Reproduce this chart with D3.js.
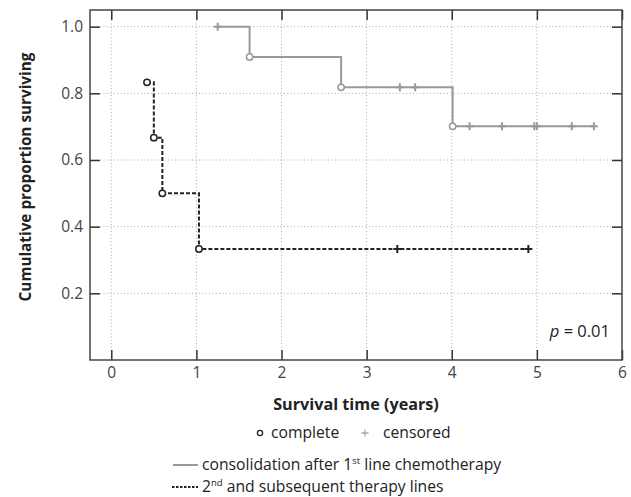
<!DOCTYPE html>
<html><head><meta charset="utf-8">
<script src="https://cdn.jsdelivr.net/npm/d3@7"></script>
<style>
body{margin:0;background:#fff;}
text{font-family:"Open Sans",sans-serif;}
</style></head>
<body><svg id="c" width="631" height="497"></svg>
<script>
// Data (time in years, cumulative proportion surviving, type e=complete, c=censored)
const consolidationTimes = [1.25, 1.625, 2.70, 3.39, 3.57, 4.01, 4.21, 4.59, 4.97, 5.00, 5.41, 5.67];
const consolidationSurv  = [1.0, 0.909, 0.818, 0.818, 0.818, 0.701, 0.701, 0.701, 0.701, 0.701, 0.701, 0.701];
const consolidationType  = ["c","e","e","c","c","e","c","c","c","c","c","c"];
const subsequentTimes = [0.42, 0.50, 0.60, 1.03, 3.36, 4.90];
const subsequentSurv  = [0.833, 0.667, 0.5, 0.333, 0.333, 0.333];
const subsequentType  = ["e","e","e","e","c","c"];
const xTicks = [0,1,2,3,4,5,6];
const yTicks = [0.2,0.4,0.6,0.8,1.0];
const xLabel = "Survival time (years)";
const yLabel = "Cumulative proportion surviving";

const svg = d3.select("#c");
const L=90, R=622, T=10, B=360;
const x = d3.scaleLinear().domain([-0.25,6]).range([L,R]);
const y = d3.scaleLinear().domain([0,1.05]).range([B,T]);

// grid
const g = svg.append("g");
g.selectAll(".gx").data(xTicks.filter(d=>d<6)).join("line")
  .attr("x1",d=>x(d)).attr("x2",d=>x(d)).attr("y1",T).attr("y2",B)
  .attr("stroke","#aaa").attr("stroke-width",1).attr("stroke-dasharray","1,2.4");
g.selectAll(".gy").data(yTicks).join("line")
  .attr("x1",L).attr("x2",R).attr("y1",d=>y(d)).attr("y2",d=>y(d))
  .attr("stroke","#aaa").attr("stroke-width",1).attr("stroke-dasharray","1,2.4");

// axes (ticks inward, mirrored)
const axB = svg.append("g").attr("transform",`translate(0,${B})`)
  .call(d3.axisBottom(x).tickValues(xTicks).tickSize(-10).tickPadding(7).tickFormat(d3.format("d")));
const axT = svg.append("g").attr("transform",`translate(0,${T})`)
  .call(d3.axisTop(x).tickValues(xTicks).tickSize(-10).tickFormat(""));
const axL = svg.append("g").attr("transform",`translate(${L},0)`)
  .call(d3.axisLeft(y).tickValues(yTicks).tickSize(-10).tickPadding(7).tickFormat(d3.format(".1f")));
const axR = svg.append("g").attr("transform",`translate(${R},0)`)
  .call(d3.axisRight(y).tickValues(yTicks).tickSize(-10).tickFormat(""));
[axB,axT,axL,axR].forEach(a=>{
  a.select(".domain").remove();
  a.selectAll(".tick line").attr("stroke","#333").attr("stroke-width",1.5);
  a.selectAll("text").attr("font-family","Open Sans").attr("font-size",15.5).attr("fill","#444");
});
svg.append("rect").attr("x",L).attr("y",T).attr("width",R-L).attr("height",B-T)
  .attr("fill","none").attr("stroke","#444").attr("stroke-width",1.5);

// series
function series(times,surv,types,color,dash){
  const pts = times.map((t,i)=>({t,s:surv[i],k:types[i]}));
  svg.append("path").datum(pts)
    .attr("d",d3.line().x(d=>x(d.t)).y(d=>y(d.s)).curve(d3.curveStepAfter))
    .attr("fill","none").attr("stroke",color).attr("stroke-width",2)
    .attr("stroke-dasharray",dash||null);
  svg.selectAll(null).data(pts.filter(d=>d.k==="c")).join("path")
    .attr("d",d=>`M${x(d.t)-4},${y(d.s)}H${x(d.t)+4}M${x(d.t)},${y(d.s)-4}V${y(d.s)+4}`)
    .attr("stroke",color).attr("stroke-width",2);
  svg.selectAll(null).data(pts.filter(d=>d.k==="e")).join("circle")
    .attr("cx",d=>x(d.t)).attr("cy",d=>y(d.s)).attr("r",3.2)
    .attr("fill","#fff").attr("stroke",color).attr("stroke-width",1.5);
}
series(consolidationTimes,consolidationSurv,consolidationType,"#999");
series(subsequentTimes,subsequentSurv,subsequentType,"#222","4,2");

// p value
const pt = svg.append("text").attr("x",610).attr("y",337).attr("text-anchor","end")
  .attr("font-size",16.5).attr("fill","#222");
pt.append("tspan").attr("font-style","italic").text("p");
pt.append("tspan").text(" = 0.01");

// axis labels
svg.append("text").attr("x",(L+R)/2).attr("y",410).attr("text-anchor","middle")
  .attr("font-size",16.2).attr("font-weight","bold").attr("fill","#222").text(xLabel);
svg.append("text").attr("transform",`translate(31,177) rotate(-90)`)
  .attr("text-anchor","middle").attr("font-size",15.3).attr("font-weight","bold").attr("fill","#222").text(yLabel);

// legend symbols
svg.append("circle").attr("cx",260).attr("cy",433).attr("r",2.6).attr("fill","#fff").attr("stroke","#222").attr("stroke-width",1.3);
svg.append("text").attr("x",271).attr("y",438).attr("font-size",15.7).attr("fill","#222").text("complete");
svg.append("path").attr("d","M361.5,433H368.5M365,429.5V436.5").attr("stroke","#aaa").attr("stroke-width",1.3);
svg.append("text").attr("x",383).attr("y",438).attr("font-size",15.7).attr("fill","#222").text("censored");

svg.append("line").attr("x1",173).attr("x2",198).attr("y1",465).attr("y2",465).attr("stroke","#999").attr("stroke-width",2);
const l1 = svg.append("text").attr("x",202).attr("y",470).attr("font-size",15.7).attr("fill","#222");
l1.append("tspan").text("consolidation after 1");
l1.append("tspan").attr("dy",-6).attr("font-size",9.5).text("st");
l1.append("tspan").attr("dy",6).text(" line chemotherapy");

svg.append("line").attr("x1",172).attr("x2",198).attr("y1",487).attr("y2",487).attr("stroke","#222").attr("stroke-width",2).attr("stroke-dasharray","2.5,1.5");
const l2 = svg.append("text").attr("x",202).attr("y",492).attr("font-size",15.7).attr("fill","#222");
l2.append("tspan").text("2");
l2.append("tspan").attr("dy",-6).attr("font-size",9.5).text("nd");
l2.append("tspan").attr("dy",6).text(" and subsequent therapy lines");
</script></body></html>
